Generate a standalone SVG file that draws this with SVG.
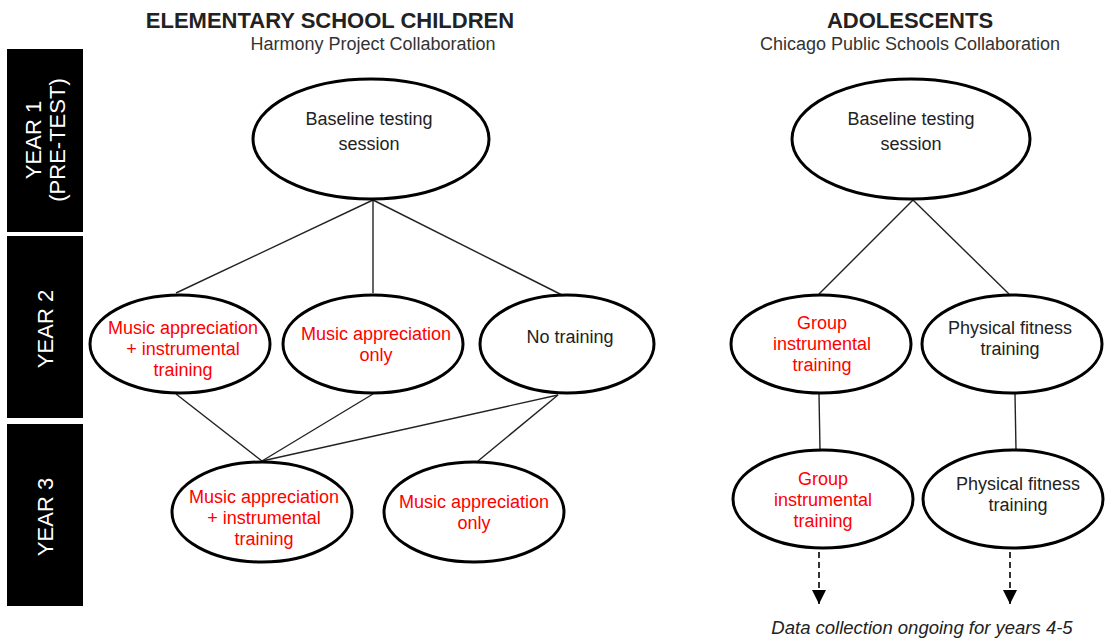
<svg xmlns="http://www.w3.org/2000/svg" width="1107" height="641" viewBox="0 0 1107 641">
<defs>
<style>
.bar{fill:#000}
.bt{fill:#fff;font-family:"Liberation Sans",Arial,sans-serif;font-size:22px;text-anchor:middle}
.node{fill:#fff;stroke:#000;stroke-width:3}
.t{font-family:"Liberation Sans",Arial,sans-serif;font-size:18px;text-anchor:middle;fill:#222}
.r{fill:#f00;font-size:18px}
.h1{font-family:"Liberation Sans",Arial,sans-serif;font-size:22px;font-weight:bold;text-anchor:middle;fill:#222}
.h2{font-family:"Liberation Sans",Arial,sans-serif;font-size:18px;text-anchor:middle;fill:#333}
.c{stroke:#222;stroke-width:1.4;fill:none}
.d{stroke:#000;stroke-width:1.6;stroke-dasharray:6,4;fill:none}
</style>
<marker id="ah" viewBox="0 0 10 10" refX="10" refY="5" markerWidth="18" markerHeight="14" markerUnits="userSpaceOnUse" orient="auto">
<path d="M0,0 L10,5 L0,10 Z" fill="#000"/>
</marker>
</defs>
<rect width="1107" height="641" fill="#fff"/>

<g id="bars">
<rect class="bar" x="7" y="49" width="76" height="183"/>
<text class="bt" transform="translate(45,140) rotate(-90)"><tspan x="0" y="-4">YEAR 1</tspan><tspan x="0" y="20">(PRE-TEST)</tspan></text>
<rect class="bar" x="7" y="236" width="76" height="182"/>
<text class="bt" transform="translate(53,329) rotate(-90)" x="0" y="0">YEAR 2</text>
<rect class="bar" x="7" y="424" width="76" height="182"/>
<text class="bt" transform="translate(53,517) rotate(-90)" x="0" y="0">YEAR 3</text>
</g>

<g id="headings">
<text class="h1" x="330" y="28">ELEMENTARY SCHOOL CHILDREN</text>
<text class="h2" x="373" y="50">Harmony Project Collaboration</text>
<text class="h1" x="910" y="28">ADOLESCENTS</text>
<text class="h2" x="910" y="50">Chicago Public Schools Collaboration</text>
</g>

<g id="connectors">
<line class="c" x1="373" y1="200" x2="176" y2="293"/>
<line class="c" x1="373" y1="200" x2="373" y2="293"/>
<line class="c" x1="373" y1="200" x2="564" y2="296"/>
<line class="c" x1="176" y1="394" x2="262" y2="461"/>
<line class="c" x1="373" y1="394" x2="262" y2="461"/>
<line class="c" x1="558" y1="395" x2="262" y2="461"/>
<line class="c" x1="558" y1="395" x2="478" y2="461"/>
<line class="c" x1="913" y1="200" x2="819" y2="294"/>
<line class="c" x1="913" y1="200" x2="1009" y2="294"/>
<line class="c" x1="819" y1="394" x2="820" y2="450"/>
<line class="c" x1="1015" y1="394" x2="1016" y2="450"/>
<line class="d" x1="819" y1="552" x2="819" y2="604" marker-end="url(#ah)"/>
<line class="d" x1="1010" y1="552" x2="1010" y2="604" marker-end="url(#ah)"/>
</g>

<g id="e-baseline">
<ellipse class="node" cx="371" cy="139" rx="118" ry="60"/>
<text class="t" x="369" y="125">Baseline testing</text>
<text class="t" x="369" y="150">session</text>
</g>
<g id="e-y2-mai">
<ellipse class="node" cx="180" cy="344" rx="90" ry="49"/>
<text class="t r" x="183" y="334">Music appreciation</text>
<text class="t r" x="183" y="355">+ instrumental</text>
<text class="t r" x="183" y="376">training</text>
</g>
<g id="e-y2-ma">
<ellipse class="node" cx="373" cy="344" rx="90" ry="49"/>
<text class="t r" x="376" y="340">Music appreciation</text>
<text class="t r" x="376" y="361">only</text>
</g>
<g id="e-y2-none">
<ellipse class="node" cx="567" cy="344" rx="87" ry="49"/>
<text class="t" x="570" y="343">No training</text>
</g>
<g id="e-y3-mai">
<ellipse class="node" cx="262" cy="512" rx="90" ry="50"/>
<text class="t r" x="264" y="503">Music appreciation</text>
<text class="t r" x="264" y="524">+ instrumental</text>
<text class="t r" x="264" y="545">training</text>
</g>
<g id="e-y3-ma">
<ellipse class="node" cx="474" cy="512" rx="90" ry="50"/>
<text class="t r" x="474" y="508">Music appreciation</text>
<text class="t r" x="474" y="529">only</text>
</g>

<g id="a-baseline">
<ellipse class="node" cx="911" cy="139" rx="119" ry="60"/>
<text class="t" x="911" y="125">Baseline testing</text>
<text class="t" x="911" y="150">session</text>
</g>
<g id="a-y2-group">
<ellipse class="node" cx="821" cy="344" rx="90" ry="49"/>
<text class="t r" x="822" y="329">Group</text>
<text class="t r" x="822" y="350">instrumental</text>
<text class="t r" x="822" y="371">training</text>
</g>
<g id="a-y2-phys">
<ellipse class="node" cx="1012" cy="344" rx="90" ry="49"/>
<text class="t" x="1010" y="334">Physical fitness</text>
<text class="t" x="1010" y="355">training</text>
</g>
<g id="a-y3-group">
<ellipse class="node" cx="823" cy="499" rx="90" ry="49"/>
<text class="t r" x="823" y="485">Group</text>
<text class="t r" x="823" y="506">instrumental</text>
<text class="t r" x="823" y="527">training</text>
</g>
<g id="a-y3-phys">
<ellipse class="node" cx="1013" cy="499" rx="90" ry="49"/>
<text class="t" x="1018" y="490">Physical fitness</text>
<text class="t" x="1018" y="511">training</text>
</g>

<text x="922" y="634" font-family="'Liberation Sans',Arial,sans-serif" font-style="italic" font-size="18.5" text-anchor="middle" fill="#222">Data collection ongoing for years 4-5</text>
</svg>
